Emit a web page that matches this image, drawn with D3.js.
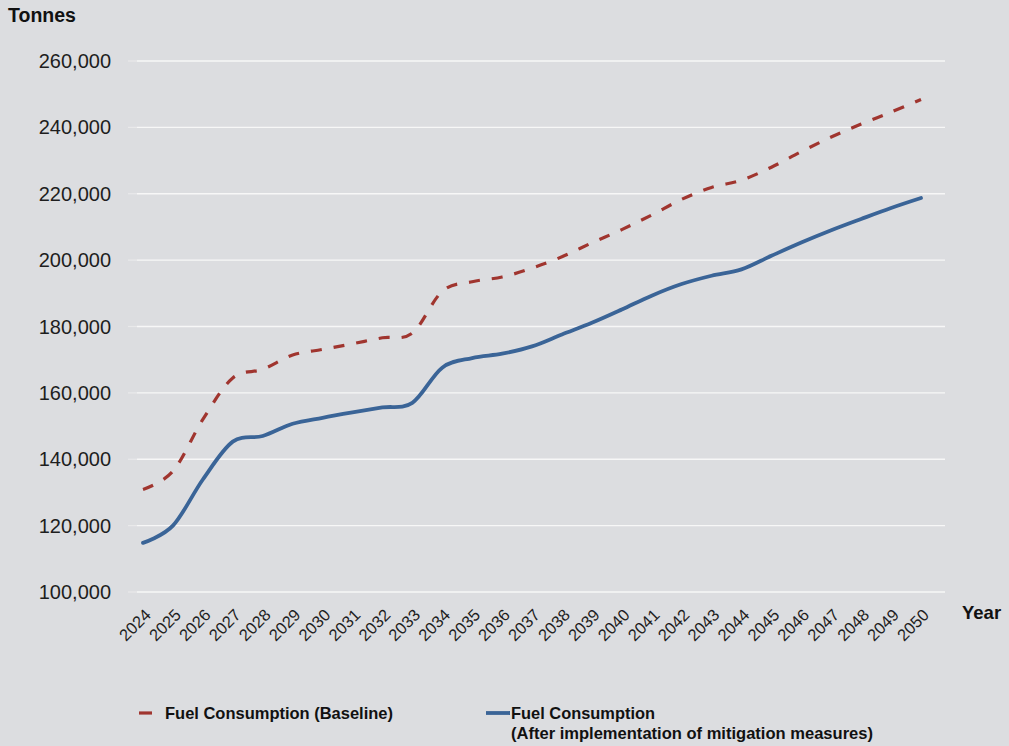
<!DOCTYPE html>
<html>
<head>
<meta charset="utf-8">
<script src="https://cdn.jsdelivr.net/npm/d3@7/dist/d3.min.js"></script>
<style>
  html, body { margin: 0; padding: 0; background: #dcdde0; }
  svg { display: block; font-family: "Liberation Sans", Arial, sans-serif; }
</style>
</head>
<body>
<svg id="chart" width="1009" height="746"></svg>
<script>
// Annual fuel consumption projections, tonnes
const years = [2024, 2025, 2026, 2027, 2028, 2029, 2030, 2031, 2032, 2033, 2034, 2035, 2036,
  2037, 2038, 2039, 2040, 2041, 2042, 2043, 2044, 2045, 2046, 2047, 2048, 2049, 2050];

const baseline = [130900, 136400, 152000, 164500, 167100, 171400, 173100, 174800, 176600, 178000,
  190600, 193500, 194900, 197600, 201000, 205200, 209200, 213600, 218300, 221900,
  224100, 228000, 232700, 237100, 241000, 244600, 248400];

const mitigated = [114800, 120000, 133900, 145300, 147000, 150700, 152500, 154100, 155600, 157000,
  167600, 170500, 171800, 174000, 177600, 181100, 185100, 189300, 192800, 195300,
  197200, 201300, 205300, 209000, 212400, 215700, 218700];

const yTicks = [100000, 120000, 140000, 160000, 180000, 200000, 220000, 240000, 260000];

const seriesNames = ["Fuel Consumption (Baseline)", "Fuel Consumption",
  "(After implementation of mitigation measures)"];

const svg = d3.select("#chart");

const x = d3.scalePoint().domain(years).range([143, 921]);
const y = d3.scaleLinear().domain([100000, 260000]).range([592, 61]);

const gridLeft = 137, gridRight = 945;
const fmt = d3.format(",");

// horizontal gridlines with short tick stubs
const grid = svg.append("g");
grid.selectAll("line.stub").data(yTicks).join("line")
  .attr("x1", 128).attr("x2", gridLeft)
  .attr("y1", d => y(d)).attr("y2", d => y(d))
  .attr("stroke", "#e9e9ea").attr("stroke-width", 1.2);
grid.selectAll("line.grid").data(yTicks).join("line")
  .attr("x1", gridLeft).attr("x2", gridRight)
  .attr("y1", d => y(d)).attr("y2", d => y(d))
  .attr("stroke", "#f7f7f7").attr("stroke-width", 1.4);

// y tick labels
svg.append("g").selectAll("text").data(yTicks).join("text")
  .attr("x", 111).attr("y", d => y(d))
  .attr("dy", "0.35em")
  .attr("text-anchor", "end")
  .attr("font-size", 20)
  .attr("fill", "#1e1e1e")
  .text(d => fmt(d));

// x tick labels, rotated
svg.append("g").selectAll("text").data(years).join("text")
  .attr("transform", d => `translate(${x(d) + 9},${616}) rotate(-45)`)
  .attr("text-anchor", "end")
  .attr("font-size", 16.5)
  .attr("fill", "#1e1e1e")
  .text(d => d);

// axis titles
svg.append("text").attr("x", 8).attr("y", 22)
  .attr("font-size", 19.5).attr("font-weight", "bold").attr("fill", "#111")
  .text("Tonnes");
svg.append("text").attr("x", 962).attr("y", 619)
  .attr("font-size", 18.5).attr("font-weight", "bold").attr("fill", "#111")
  .text("Year");

// series lines
const line = d3.line()
  .x((d, i) => x(years[i]))
  .y(d => y(d))
  .curve(d3.curveCardinal.tension(0));

const red = "#a0352f", blue = "#3a6497";

svg.append("path").datum(baseline)
  .attr("d", line)
  .attr("fill", "none")
  .attr("stroke", red)
  .attr("stroke-width", 3.2)
  .attr("stroke-dasharray", "11,12");

svg.append("path").datum(mitigated)
  .attr("d", line)
  .attr("fill", "none")
  .attr("stroke", blue)
  .attr("stroke-width", 3.8)
  .attr("stroke-linecap", "round");

// legend
const legend = svg.append("g");
legend.append("line")
  .attr("x1", 139).attr("x2", 152).attr("y1", 713).attr("y2", 713)
  .attr("stroke", red).attr("stroke-width", 3.2);
legend.append("text").attr("x", 165).attr("y", 719)
  .attr("font-size", 17).attr("font-weight", "bold").attr("fill", "#111")
  .attr("textLength", 228).attr("lengthAdjust", "spacingAndGlyphs")
  .text(seriesNames[0]);

legend.append("line")
  .attr("x1", 486).attr("x2", 510).attr("y1", 713).attr("y2", 713)
  .attr("stroke", blue).attr("stroke-width", 3.8);
legend.append("text").attr("x", 511).attr("y", 719)
  .attr("font-size", 17).attr("font-weight", "bold").attr("fill", "#111")
  .attr("textLength", 144).attr("lengthAdjust", "spacingAndGlyphs")
  .text(seriesNames[1]);
legend.append("text").attr("x", 511).attr("y", 739)
  .attr("font-size", 17).attr("font-weight", "bold").attr("fill", "#111")
  .attr("textLength", 362).attr("lengthAdjust", "spacingAndGlyphs")
  .text(seriesNames[2]);
</script>
</body>
</html>
